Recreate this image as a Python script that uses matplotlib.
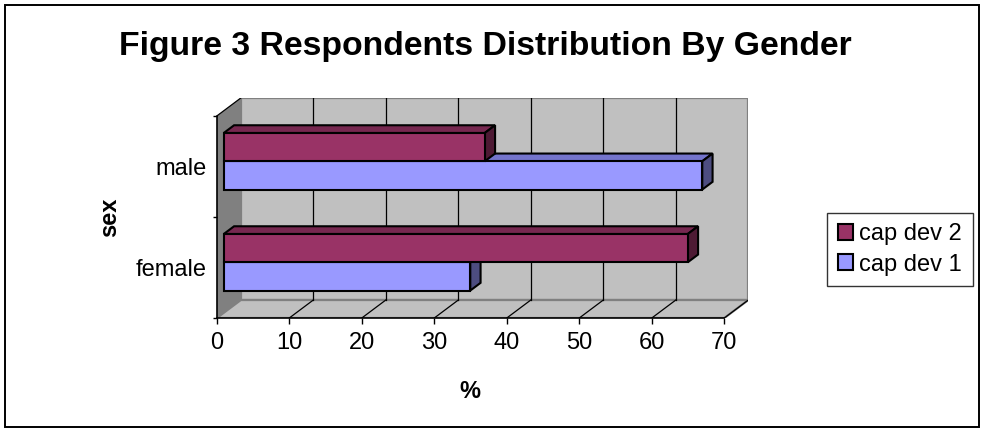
import matplotlib
matplotlib.use("Agg")
import matplotlib.pyplot as plt
from matplotlib.patches import Polygon, Patch, Rectangle
import numpy as np

# Data
categories = ["female", "male"]
series_names = ["cap dev 1", "cap dev 2"]
cap_dev_1 = [34, 66]
cap_dev_2 = [64, 36]
x_ticks = [0, 10, 20, 30, 40, 50, 60, 70]

# Style
FONT = ["Liberation Sans", "DejaVu Sans"]
plt.rcParams["font.family"] = FONT
front_colors = {"cap dev 1": "#9999FF", "cap dev 2": "#993366"}
top_colors = {"cap dev 1": "#7474CC", "cap dev 2": "#772850"}
side_colors = {"cap dev 1": "#4D4D80", "cap dev 2": "#4E1A34"}
FS = 17

W, H = 982, 429
fig = plt.figure(figsize=(W / 100, H / 100), dpi=100)
fig.patch.set_facecolor("white")

# outer chart border
fig.add_artist(Rectangle((5 / W, 2 / H), 974 / W, 422 / H, transform=fig.transFigure,
                         fill=False, edgecolor="black", linewidth=1.4))

xmax = 70
dx = 3.31    # depth offset of back wall, x units
dy = 0.178   # depth offset of back wall, category units
f0, f1 = 0.29, 0.72   # depth range occupied by the bars
bar_h = 0.28

ax = fig.add_axes([216.8 / W, (H - 318) / H, 531.5 / W, 220 / H])
ax.set_xlim(0, xmax + dx)
ax.set_ylim(0, 2 + dy)
for s in ax.spines.values():
    s.set_visible(False)
ax.set_facecolor("none")

wall_edge = "#808080"
# left wall
ax.add_patch(Polygon([(0, 0), (dx, dy), (dx, 2 + dy), (0, 2)], closed=True,
                     facecolor="#808080", edgecolor="none", zorder=1))
ax.plot([0, dx], [2, 2 + dy], color="black", lw=0.9, zorder=1.5)
# back wall
ax.add_patch(Polygon([(dx, dy), (xmax + dx, dy), (xmax + dx, 2 + dy), (dx, 2 + dy)],
                     closed=True, facecolor="#C0C0C0", edgecolor=wall_edge, lw=1.6, zorder=1))
# floor
ax.add_patch(Polygon([(0, 0), (xmax, 0), (xmax + dx, dy), (dx, dy)], closed=True,
                     facecolor="#C0C0C0", edgecolor=wall_edge, lw=1.6, zorder=1))
# gridlines on back wall and floor
for t in x_ticks[1:-1]:
    ax.plot([t + dx, t + dx], [dy, 2 + dy], color="black", lw=0.9, zorder=2)
for t in x_ticks[1:]:
    ax.plot([t, t + dx], [0, dy], color="black", lw=0.9, zorder=2)
# front axis lines
ax.plot([0, xmax], [0, 0], color="black", lw=1.2, zorder=2, clip_on=False)
ax.plot([0, 0], [0, 2], color="black", lw=1.2, zorder=2, clip_on=False)

ox, oy = f0 * dx, f0 * dy
ddx, ddy = (f1 - f0) * dx, (f1 - f0) * dy
centers = np.arange(len(categories)) + 0.5
lw = 1.5
z = 3
for i, c in enumerate(centers):
    for name, vals, y0 in (("cap dev 1", cap_dev_1, c - bar_h),
                           ("cap dev 2", cap_dev_2, c)):
        v = vals[i]
        yb = y0 + oy
        yt = yb + bar_h
        x0 = ox
        x1 = ox + v
        # top face
        ax.add_patch(Polygon([(x0, yt), (x0 + ddx, yt + ddy), (x1 + ddx, yt + ddy), (x1, yt)],
                             closed=True, facecolor=top_colors[name], edgecolor="black",
                             lw=lw, joinstyle="miter", zorder=z))
        # side face
        ax.add_patch(Polygon([(x1, yb), (x1 + ddx, yb + ddy), (x1 + ddx, yt + ddy), (x1, yt)],
                             closed=True, facecolor=side_colors[name], edgecolor="black",
                             lw=lw, joinstyle="miter", zorder=z))
        # front face
        ax.barh(yb + bar_h / 2, v, height=bar_h, left=x0, color=front_colors[name],
                edgecolor="black", linewidth=lw, zorder=z + 0.5)
        z += 1

# ticks
ax.set_xticks(x_ticks)
ax.set_xticklabels([str(t) for t in x_ticks], fontsize=FS)
ax.tick_params(axis="x", direction="out", length=4, width=1, color="black", pad=6)
ax.set_yticks([0, 1, 2])
ax.set_yticklabels([])
ax.tick_params(axis="y", which="major", direction="out", length=3, width=1, color="black")
ax.set_yticks(centers, minor=True)
ax.set_yticklabels(categories, minor=True, fontsize=FS)
ax.tick_params(axis="y", which="minor", length=0, pad=7)

# axis titles and chart title
fig.text(470 / W, 1 - 391 / H, "%", ha="center", va="center", fontsize=FS, fontweight="bold")
fig.text(110 / W, 1 - 217 / H, "sex", ha="center", va="center", rotation=90,
         fontsize=FS, fontweight="bold")
fig.text(485 / W, 1 - 47 / H, "Figure 3 Respondents Distribution By Gender",
         ha="center", va="center", fontsize=24.3, fontweight="bold")

# legend
handles = [Patch(facecolor=front_colors["cap dev 2"], edgecolor="black", linewidth=1.5,
                 label="cap dev 2"),
           Patch(facecolor=front_colors["cap dev 1"], edgecolor="black", linewidth=1.5,
                 label="cap dev 1")]
leg = fig.legend(handles=handles, loc="center", bbox_to_anchor=(900 / W, 1 - 249.5 / H),
                 fontsize=FS, frameon=True, fancybox=False, edgecolor="black",
                 handlelength=0.65, handleheight=0.65, handletextpad=0.25,
                 borderpad=0.45, labelspacing=0.35, borderaxespad=0)
leg.get_frame().set_linewidth(1.0)

fig.savefig("out.png", dpi=100)
